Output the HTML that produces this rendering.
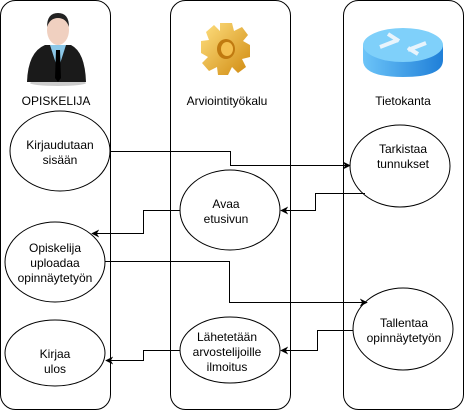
<!DOCTYPE html>
<html><head><meta charset="utf-8"><style>body{margin:0;background:#fff}svg{display:block}text{font-family:"Liberation Sans",sans-serif;font-size:12px;fill:#000}</style></head><body>
<svg width="464" height="411" viewBox="0 0 464 411">
<defs>
<marker id="a" viewBox="0 0 10 10" refX="9" refY="5" markerWidth="8" markerHeight="8" orient="auto"><path d="M0,0 L10,5 L0,10 L3,5 z" fill="#000"/></marker>
<linearGradient id="g" x1="0" y1="0" x2="1" y2="1"><stop offset="0" stop-color="#ffe080"/><stop offset="1" stop-color="#d08a10"/></linearGradient>
<linearGradient id="b" x1="0" y1="0" x2="1" y2="0"><stop offset="0" stop-color="#6cc4f8"/><stop offset="1" stop-color="#1f7fd8"/></linearGradient>
</defs>
<g fill="none" stroke="#000" stroke-width="1">
<rect x="0.5" y="0.5" width="110" height="409" rx="15"/>
<rect x="170.5" y="0.5" width="120" height="409" rx="15"/>
<rect x="343.5" y="0.5" width="120" height="409" rx="15"/>
</g>
<!-- person -->
<ellipse cx="58" cy="83" rx="28" ry="3" fill="#ccc"/>
<path d="M27,82 Q28,52 45,45 L71,45 Q85,52 86,82 Z" fill="#1a1a1a"/>
<path d="M50,45 L58,70 L66,45 Z" fill="#8cc8e8"/>
<path d="M56,50 L60,50 L61,78 L58,82 L55,78 Z" fill="#000"/>
<ellipse cx="58" cy="30" rx="11" ry="15" fill="#f0d0c0"/>
<path d="M47,27 Q47,13 58,13 Q69,13 69,27 Q66,18 58,18 Q50,18 47,27Z" fill="#222"/>
<!-- gear -->
<g transform="translate(226,49)">
<path d="M-6,-26 L6,-26 L8,-18 L16,-22 L22,-14 L17,-8 L24,-4 L24,8 L16,10 L20,18 L12,24 L6,18 L2,26 L-8,26 L-9,18 L-17,22 L-24,14 L-18,8 L-25,4 L-25,-8 L-17,-9 L-20,-17 L-12,-24 L-6,-18 Z" fill="url(#g)"/>
<ellipse cx="0" cy="0" rx="9" ry="10" fill="#c07a10"/>
<ellipse cx="1" cy="0" rx="6" ry="7" fill="#f4c050"/>
</g>
<!-- router -->
<path d="M363,45 L363,60 Q363,77 403,77 Q443,77 443,60 L443,45 Z" fill="url(#b)"/>
<ellipse cx="403" cy="45" rx="40" ry="17" fill="#7fd0fa"/>
<path d="M380,47 L398,40 M426,43 L408,50 M388,34 L399,41 M418,54 L408,48" stroke="#e8f4fc" stroke-width="4"/>
<text x="56" y="105" text-anchor="middle">OPISKELIJA</text>
<text x="227" y="105" text-anchor="middle">Arviointityökalu</text>
<text x="403" y="105" text-anchor="middle">Tietokanta</text>
<g fill="#fff" stroke="#000">
<ellipse cx="60" cy="151" rx="50" ry="40"/>
<ellipse cx="400" cy="166" rx="50" ry="41"/>
<ellipse cx="230" cy="210" rx="50" ry="40"/>
<ellipse cx="55" cy="262" rx="50" ry="40"/>
<ellipse cx="403" cy="329" rx="50" ry="41"/>
<ellipse cx="230" cy="350" rx="50" ry="33"/>
<ellipse cx="55" cy="353" rx="50" ry="33"/>
</g>
<g fill="none" stroke="#000" marker-end="url(#a)">
<path d="M110,151.5 H230.5 V165.5 H350"/>
<path d="M365,193.5 H315.5 V210.5 H281"/>
<path d="M180,210.5 H143.5 V233.5 H92"/>
<path d="M105,261.5 H229.5 V302.5 H367"/>
<path d="M353,330.5 H317.5 V350.5 H281"/>
<path d="M180,350.5 H143.5 V360.5 H106"/>
</g>
<g text-anchor="middle">
<text x="60" y="149">Kirjaudutaan</text><text x="60" y="164">sisään</text>
<text x="403" y="153">Tarkistaa</text><text x="403" y="168">tunnukset</text>
<text x="226" y="208">Avaa</text><text x="226" y="223">etusivun</text>
<text x="55" y="252">Opiskelija</text><text x="55" y="267">uploadaa</text><text x="55" y="282">opinnäytetyön</text>
<text x="404" y="327">Tallentaa</text><text x="404" y="342">opinnäytetyön</text>
<text x="227" y="341">Lähetetään</text><text x="227" y="356">arvostelijoille</text><text x="227" y="371">ilmoitus</text>
<text x="55" y="358">Kirjaa</text><text x="55" y="373">ulos</text>
</g>
</svg>
</body></html>
